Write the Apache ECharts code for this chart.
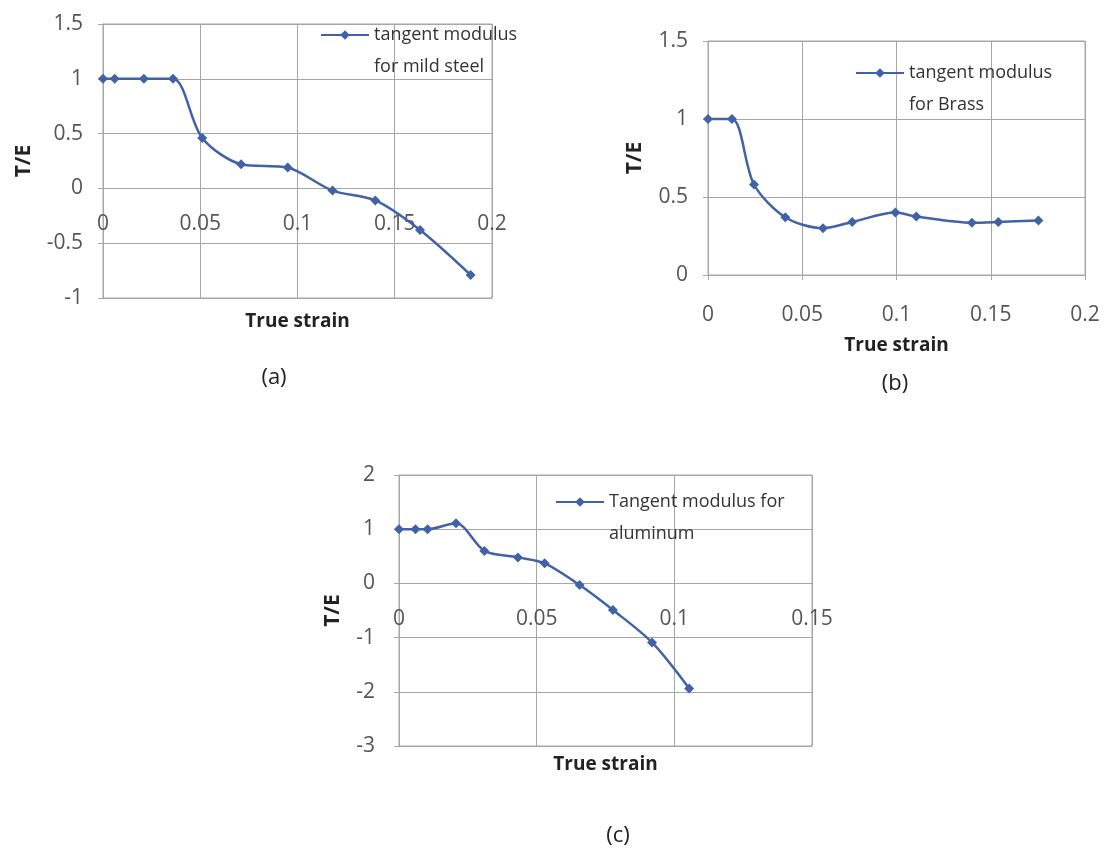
<!DOCTYPE html>
<html>
<head>
<meta charset="utf-8">
<title>Tangent modulus vs true strain</title>
<script src="https://cdn.jsdelivr.net/npm/echarts@6/dist/echarts.min.js"></script>
<style>
  html, body { margin: 0; padding: 0; background: #fff; }
  #chart { width: 1104px; height: 851px; }
</style>
</head>
<body>
<div id="chart"></div>
<script>
// (a) mild steel
var steelStrain = [0, 0.006, 0.021, 0.036, 0.051, 0.071, 0.095, 0.118, 0.140, 0.163, 0.189];
var steelTE     = [1.0, 1.0, 1.0, 1.0, 0.46, 0.22, 0.19, -0.02, -0.11, -0.38, -0.79];
// (b) brass
var brassStrain = [0, 0.0127, 0.0244, 0.041, 0.061, 0.0765, 0.0994, 0.1105, 0.140, 0.154, 0.1753];
var brassTE     = [1.0, 1.0, 0.58, 0.37, 0.30, 0.34, 0.40, 0.375, 0.335, 0.34, 0.35];
// (c) aluminum
var aluStrain = [0, 0.006, 0.0104, 0.0207, 0.031, 0.0432, 0.0529, 0.0656, 0.0777, 0.0919, 0.1054];
var aluTE     = [1.0, 1.0, 1.0, 1.11, 0.60, 0.48, 0.37, -0.03, -0.49, -1.09, -1.94];

var seriesNames = ['tangent modulus for mild steel', 'tangent modulus for Brass', 'Tangent modulus for aluminum'];
var legendLines = [['tangent modulus', 'for mild steel'], ['tangent modulus', 'for Brass'], ['Tangent modulus for', 'aluminum']];
var panelLabels = ['(a)', '(b)', '(c)'];

// y ranges of the three panels
var yMin = [-1, 0, -3];
var yMax = [1.5, 1.5, 2];
var yStep = [0.5, 0.5, 1];
var xMax = [0.2, 0.2, 0.15];

var FONT = 'Open Sans';
var BLUE = '#4262a8';
var GRID = '#a6a6a6';

var grids = [
    { left: 103, top: 24, width: 389, height: 274 },
    { left: 708, top: 41, width: 377, height: 234 },
    { left: 399, top: 475, width: 413, height: 271 }
];

function pairs(xs, ys) {
    var out = [];
    for (var i = 0; i < xs.length; i++) out.push([xs[i], ys[i]]);
    return out;
}

// x axis sits on the y=0 line (Excel style), shifted up from the grid bottom
function xAxisFor(idx, margin, nameGap) {
    var lift = grids[idx].height * (0 - yMin[idx]) / (yMax[idx] - yMin[idx]);
    return {
        gridIndex: idx, type: 'value', min: 0, max: xMax[idx], interval: 0.05,
        position: 'bottom', offset: -lift,
        name: 'True strain', nameLocation: 'middle', nameGap: nameGap,
        nameTextStyle: { fontFamily: FONT, fontWeight: 'bold', fontSize: 19, color: '#222' },
        axisLine: { onZero: false, lineStyle: { color: GRID, width: 1 } },
        axisTick: { show: true, inside: false, length: 5, lineStyle: { color: GRID } },
        axisLabel: { margin: margin, fontFamily: FONT, fontSize: 21, color: '#555' },
        splitLine: { show: true, lineStyle: { color: GRID, width: 1 } }
    };
}

function yAxisFor(idx, nameGap, margin) {
    return {
        gridIndex: idx, type: 'value', min: yMin[idx], max: yMax[idx], interval: yStep[idx],
        name: 'T/E', nameLocation: 'middle', nameRotate: 90, nameGap: nameGap,
        nameTextStyle: { fontFamily: FONT, fontWeight: 'bold', fontSize: 21, color: '#222' },
        axisLine: { show: true, onZero: false, lineStyle: { color: GRID, width: 1 } },
        axisTick: { show: true, inside: false, length: 5, lineStyle: { color: GRID } },
        axisLabel: { margin: margin, fontFamily: FONT, fontSize: 21, color: '#555' },
        splitLine: { show: true, lineStyle: { color: GRID, width: 1 } }
    };
}

function lineSeries(idx, name, data) {
    return {
        name: name, type: 'line', xAxisIndex: idx, yAxisIndex: idx,
        data: data, smooth: 0.3,
        symbol: 'diamond', symbolSize: 10,
        lineStyle: { color: BLUE, width: 2.5 },
        itemStyle: { color: BLUE },
        emphasis: { disabled: true }
    };
}

// blank first line keeps the icon level with the first text line
function legendFor(idx, left, iconY) {
    return {
        data: [seriesNames[idx]], left: left, top: iconY - 48, padding: 0,
        itemWidth: 48, itemHeight: 12, itemGap: 0,
        selectedMode: false,
        formatter: function () { return ' \n' + legendLines[idx].join('\n'); },
        textStyle: { fontFamily: FONT, fontSize: 18, color: '#333', lineHeight: 32 }
    };
}

function panelTitle(idx, x, y) {
    return {
        text: panelLabels[idx], left: x, top: y, textAlign: 'center',
        textStyle: { fontFamily: FONT, fontWeight: 'normal', fontSize: 22, color: '#222' }
    };
}

function gridFor(idx) {
    var g = grids[idx];
    return { left: g.left, top: g.top, width: g.width, height: g.height, show: true,
             borderColor: GRID, borderWidth: 1, outerBoundsMode: 'none' };
}

var myChart = echarts.init(document.getElementById('chart'), null, { renderer: 'canvas' });
var option = {
    backgroundColor: '#fff',
    animation: false,
    grid: [gridFor(0), gridFor(1), gridFor(2)],
    xAxis: [
        xAxisFor(0, 25, 124),
        xAxisFor(1, 30, 61),
        xAxisFor(2, 25, 172)
    ],
    yAxis: [
        yAxisFor(0, 68, 20),
        yAxisFor(1, 62, 20),
        yAxisFor(2, 55, 24)
    ],
    legend: [
        legendFor(0, 320, 35),
        legendFor(1, 855, 73),
        legendFor(2, 555, 502)
    ],
    title: [
        panelTitle(0, 269, 362),
        panelTitle(1, 890, 368),
        panelTitle(2, 613, 820)
    ],
    series: [
        lineSeries(0, seriesNames[0], pairs(steelStrain, steelTE)),
        lineSeries(1, seriesNames[1], pairs(brassStrain, brassTE)),
        lineSeries(2, seriesNames[2], pairs(aluStrain, aluTE))
    ]
};
myChart.setOption(option);
</script>
</body>
</html>
